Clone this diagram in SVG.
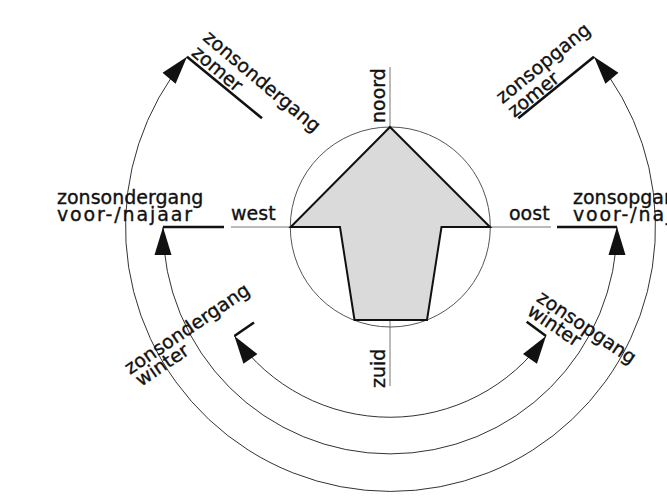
<svg xmlns="http://www.w3.org/2000/svg" width="667" height="497" viewBox="0 0 667 497">
<style>
text{font-family:"DejaVu Sans","Liberation Sans",sans-serif;font-size:19px;fill:#111;stroke:#111;stroke-width:0.35}
.arc{fill:none;stroke:#333;stroke-width:1}
.axis{stroke:#777;stroke-width:1;fill:none}
.thick{stroke:#111;stroke-width:2.6;fill:none;stroke-linecap:butt}
</style>
<defs>
<marker id="ah" markerUnits="userSpaceOnUse" markerWidth="32" markerHeight="22" viewBox="-30 -11 32 22" refX="0" refY="0" orient="auto-start-reverse" overflow="visible">
<path d="M0,0 L-28,-8.5 L-28,8.5 Z" fill="#111"/>
</marker>
</defs>
<rect width="667" height="497" fill="#fff"/>
<g id="compass">
<line class="axis" x1="390" y1="67" x2="390" y2="127"/>
<line class="axis" x1="390" y1="320" x2="390" y2="386"/>
<line class="axis" x1="231" y1="227" x2="291" y2="227"/>
<line class="axis" x1="490" y1="227" x2="551" y2="227"/>
<circle cx="390.3" cy="227" r="100" fill="none" stroke="#555" stroke-width="1"/>
<polygon points="390,127 490,227 441.5,227 427,320 354.5,320 340,227 290.7,227" fill="#dadada" stroke="#111" stroke-width="2"/>
</g>
<g id="directions">
<text transform="translate(385,123) rotate(-90)">noord</text>
<text transform="translate(385,388) rotate(-90)">zuid</text>
<text x="231" y="220">west</text>
<text x="509" y="220">oost</text>
</g>
<g id="connectors">
<path class="arc" d="M187,56.7 A265,265 0 1 0 594,56.7" marker-start="url(#ah)" marker-end="url(#ah)"/>
<path class="arc" d="M163,227 A227,227 0 0 0 617,227" marker-start="url(#ah)" marker-end="url(#ah)"/>
<path class="arc" d="M234.4,336 A190,190 0 0 0 546,336" marker-start="url(#ah)" marker-end="url(#ah)"/>
</g>
<g id="sunset-summer">
<line class="thick" x1="187" y1="56.7" x2="262" y2="118.3"/>
<text transform="translate(201.9,39.2) rotate(40)">zonsondergang</text>
<text transform="translate(190.4,54.4) rotate(40)">zomer</text>
</g>
<g id="sunrise-summer">
<line class="thick" x1="518.3" y1="118.3" x2="594" y2="56.7"/>
<text transform="translate(502.4,104.2) rotate(-39)">zonsopgang</text>
<text transform="translate(514.3,118.1) rotate(-39)">zomer</text>
</g>
<g id="sunset-equinox">
<line class="thick" x1="163" y1="227" x2="224" y2="227"/>
<text x="57" y="204">zonsondergang</text>
<text x="57" y="221" textLength="135" lengthAdjust="spacing">voor-/najaar</text>
</g>
<g id="sunrise-equinox">
<line class="thick" x1="557" y1="227" x2="617" y2="227"/>
<text x="573" y="204">zonsopgang</text>
<text x="573" y="221" textLength="135" lengthAdjust="spacing">voor-/najaar</text>
</g>
<g id="sunset-winter">
<line class="thick" x1="234.4" y1="336" x2="254" y2="322.5"/>
<text transform="translate(130,375) rotate(-34)">zonsondergang</text>
<text transform="translate(141,387) rotate(-34)">winter</text>
</g>
<g id="sunrise-winter">
<line class="thick" x1="526.7" y1="321.7" x2="546" y2="336"/>
<text transform="translate(535.4,300.5) rotate(34)">zonsopgang</text>
<text transform="translate(525.9,313.9) rotate(34)">winter</text>
</g>
</svg>
